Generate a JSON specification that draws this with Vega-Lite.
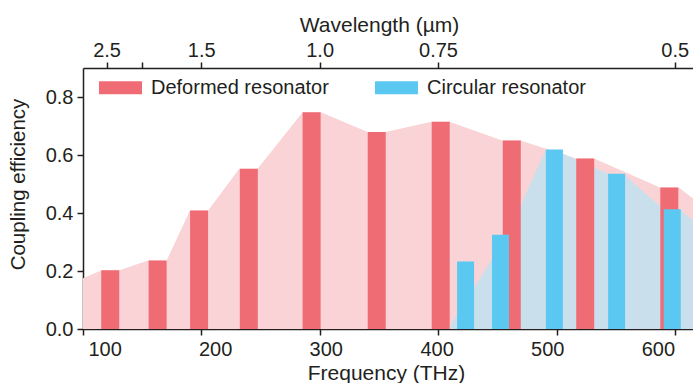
{
  "$schema": "https://vega.github.io/schema/vega-lite/v6.json",
  "width": 610,
  "height": 261,
  "autosize": {"type": "none"},
  "padding": {"left": 83, "top": 68, "right": 0, "bottom": 54},
  "background": "white",
  "config": {
    "view": {"stroke": null},
    "font": "Liberation Sans",
    "axis": {
      "grid": false,
      "domainColor": "#231F20",
      "domainWidth": 1.5,
      "tickColor": "#231F20",
      "tickWidth": 1.5,
      "tickSize": 6,
      "labelColor": "#231F20",
      "titleColor": "#231F20",
      "labelFont": "Liberation Sans",
      "titleFont": "Liberation Sans",
      "labelFontSize": 20,
      "titleFontSize": 21,
      "titleFontWeight": "normal",
      "labelFlush": false,
      "labelOverlap": false
    },
    "legend": {
      "labelFont": "Liberation Sans",
      "labelFontSize": 20,
      "labelColor": "#231F20",
      "labelLimit": 0
    }
  },
  "datasets": {
    "deformedBars": [
      {"f": 123, "v": 0.203},
      {"f": 163, "v": 0.236},
      {"f": 198, "v": 0.409},
      {"f": 240, "v": 0.553},
      {"f": 293, "v": 0.747},
      {"f": 348, "v": 0.679},
      {"f": 402, "v": 0.715},
      {"f": 462, "v": 0.650},
      {"f": 524, "v": 0.588},
      {"f": 595, "v": 0.488}
    ],
    "circularBars": [
      {"f": 423, "v": 0.233},
      {"f": 452.5, "v": 0.325},
      {"f": 498, "v": 0.619},
      {"f": 550.5, "v": 0.535},
      {"f": 597.5, "v": 0.413}
    ],
    "deformedArea": [
      {"f": 100, "v": 0.175},
      {"f": 115.8, "v": 0.203},
      {"f": 130.6, "v": 0.203},
      {"f": 155.1, "v": 0.236},
      {"f": 170.6, "v": 0.236},
      {"f": 190.3, "v": 0.409},
      {"f": 205.7, "v": 0.409},
      {"f": 231.9, "v": 0.553},
      {"f": 247.4, "v": 0.553},
      {"f": 285.4, "v": 0.747},
      {"f": 300.8, "v": 0.747},
      {"f": 340.3, "v": 0.679},
      {"f": 355.5, "v": 0.679},
      {"f": 394.3, "v": 0.715},
      {"f": 409.5, "v": 0.715},
      {"f": 453.8, "v": 0.650},
      {"f": 469.4, "v": 0.650},
      {"f": 516.3, "v": 0.588},
      {"f": 531.5, "v": 0.588},
      {"f": 587.2, "v": 0.488},
      {"f": 603.0, "v": 0.488},
      {"f": 615, "v": 0.45}
    ],
    "circularArea": [
      {"f": 408.4, "v": 0.0},
      {"f": 459.6, "v": 0.335},
      {"f": 490.7, "v": 0.619},
      {"f": 505.0, "v": 0.605},
      {"f": 543.4, "v": 0.535},
      {"f": 557.4, "v": 0.530},
      {"f": 590.0, "v": 0.413},
      {"f": 604.6, "v": 0.410},
      {"f": 615, "v": 0.375}
    ]
  },
  "layer": [
    {
      "data": {"name": "deformedArea"},
      "mark": {"type": "area", "color": "#F9D3D6", "opacity": 1, "clip": true},
      "encoding": {
        "x": {
          "field": "f", "type": "quantitative",
          "scale": {"domain": [100, 615], "nice": false, "zero": false, "padding": 0},
          "axis": {
            "orient": "top",
            "title": "Wavelength (µm)",
            "values": [119.92, 149.9, 199.86, 299.79, 399.72, 599.58],
            "labelExpr": "datum.value < 140 ? '2.5' : datum.value < 170 ? '' : datum.value < 250 ? '1.5' : datum.value < 350 ? '1.0' : datum.value < 500 ? '0.75' : '0.5'",
            "labelPadding": 2,
            "titlePadding": 5,
            "titleX": 296
          }
        },
        "y": {
          "field": "v", "type": "quantitative",
          "scale": {"domain": [0, 0.9], "nice": false},
          "axis": {
            "title": "Coupling efficiency",
            "values": [0, 0.2, 0.4, 0.6, 0.8],
            "format": ".1f",
            "labelPadding": 4,
            "titlePadding": 17,
            "titleFontSize": 20.5,
            "titleY": 116
          }
        }
      }
    },
    {
      "data": {"name": "circularArea"},
      "mark": {"type": "area", "color": "#C9DFEC", "opacity": 1, "clip": true},
      "encoding": {
        "x": {"field": "f", "type": "quantitative", "axis": null},
        "y": {"field": "v", "type": "quantitative", "axis": null}
      }
    },
    {
      "data": {"name": "deformedBars"},
      "mark": {"type": "bar", "size": 18, "clip": true},
      "encoding": {
        "x": {
          "field": "f", "type": "quantitative",
          "axis": {
            "orient": "bottom",
            "title": null,
            "labels": false,
            "values": [100, 200, 300, 400, 500, 600]
          }
        },
        "y": {"field": "v", "type": "quantitative", "axis": null},
        "color": {
          "datum": "Deformed resonator",
          "type": "nominal",
          "scale": {
            "domain": ["Deformed resonator", "Circular resonator"],
            "range": ["#EF6C74", "#5BC8F2"]
          },
          "legend": {
            "title": null,
            "orient": "none",
            "direction": "horizontal",
            "legendX": 16,
            "legendY": -2,
            "symbolType": "M-1,-0.3L1,-0.3L1,0.3L-1,0.3Z",
            "symbolSize": 1849,
            "symbolStrokeWidth": 0,
            "symbolOpacity": 1,
            "labelOffset": 9,
            "columnPadding": 46
          }
        }
      }
    },
    {
      "data": {"name": "circularBars"},
      "mark": {"type": "bar", "size": 17, "clip": true},
      "encoding": {
        "x": {
          "field": "f", "type": "quantitative",
          "axis": {
            "orient": "bottom",
            "title": "Frequency (THz)",
            "domain": false,
            "ticks": false,
            "values": [118.3, 211.6, 304.9, 398.6, 491.9, 585.3],
            "labelExpr": "datum.value < 150 ? '100' : datum.value < 250 ? '200' : datum.value < 350 ? '300' : datum.value < 450 ? '400' : datum.value < 550 ? '500' : '600'",
            "labelPadding": 10,
            "titlePadding": 3,
            "titleX": 303
          }
        },
        "y": {"field": "v", "type": "quantitative", "axis": null},
        "color": {"datum": "Circular resonator", "type": "nominal"}
      }
    }
  ],
  "resolve": {"axis": {"x": "independent", "y": "independent"}}
}
